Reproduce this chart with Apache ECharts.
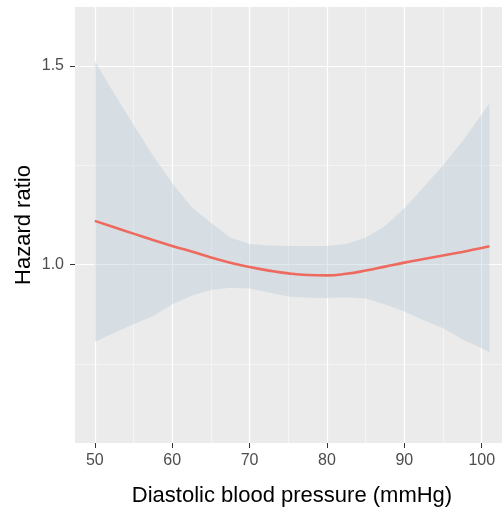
<!DOCTYPE html>
<html>
<head>
<meta charset="utf-8">
<script src="https://cdn.jsdelivr.net/npm/echarts@6/dist/echarts.min.js"></script>
<style>html,body{margin:0;padding:0;background:#fff;}#c{width:502px;height:512px;}</style>
</head>
<body>
<div id="c"></div>
<script>
// Diastolic blood pressure (mmHg)
const dbp = [50, 52.5, 55, 57.5, 60, 62.5, 65, 67.5, 70, 72.5, 75, 77.5, 80, 82.5, 85, 87.5, 90, 92.5, 95, 97.5, 100, 101];
// Fitted hazard ratio
const hazard = [1.11, 1.094, 1.078, 1.062, 1.047, 1.033, 1.018, 1.005, 0.994, 0.985, 0.978, 0.974, 0.973, 0.977, 0.985, 0.995, 1.005, 1.014, 1.023, 1.032, 1.042, 1.046];
// 95% confidence band
const upperCI = [1.512, 1.43, 1.352, 1.275, 1.205, 1.145, 1.105, 1.068, 1.052, 1.048, 1.047, 1.047, 1.047, 1.052, 1.068, 1.097, 1.142, 1.195, 1.25, 1.31, 1.378, 1.405];
const lowerCI = [0.806, 0.828, 0.85, 0.87, 0.9, 0.922, 0.936, 0.942, 0.94, 0.93, 0.92, 0.917, 0.916, 0.918, 0.915, 0.9, 0.882, 0.86, 0.84, 0.812, 0.79, 0.78];
// Axis ticks
const xTicks = [50, 60, 70, 80, 90, 100];
const xMinor = [55, 65, 75, 85, 95];
const yTicks = [1.0, 1.5];
const yMinor = [0.75, 1.25];

const FONT = '"Liberation Sans", Arial, sans-serif';
const X_MIN = 47.44, X_MAX = 102.62, Y_MIN = 0.5515, Y_MAX = 1.6478;

const chart = echarts.init(document.getElementById('c'), null, {renderer: 'canvas'});
const bandRows = dbp.map((x, i) => [x, lowerCI[i], upperCI[i]]);

function hiddenAxis(type, min, max, vals, color, width) {
  return {
    type: 'value', min: min, max: max,
    axisLine: {show: false},
    axisTick: {show: false, customValues: vals},
    axisLabel: {show: false, customValues: vals},
    splitLine: {show: true, lineStyle: {color: color, width: width}}
  };
}

chart.setOption({
  animation: false,
  backgroundColor: '#ffffff',
  grid: {left: 75, right: 0, top: 7, bottom: 64, show: true, backgroundColor: '#EBEBEB', borderWidth: 0},
  xAxis: [
    {
      type: 'value', min: X_MIN, max: X_MAX,
      name: 'Diastolic blood pressure (mmHg)', nameLocation: 'middle', nameGap: 42,
      nameMoveOverlap: false,
      nameTextStyle: {color: '#000', fontSize: 22, fontFamily: FONT, padding: [0, 0, 0, 7]},
      axisLine: {show: false},
      axisTick: {show: true, customValues: xTicks, length: 5, lineStyle: {color: '#333333', width: 1}},
      axisLabel: {customValues: xTicks, color: '#4D4D4D', fontSize: 16, fontFamily: FONT, margin: 10},
      splitLine: {show: true, lineStyle: {color: '#FFFFFF', width: 1.2}}
    },
    hiddenAxis('value', X_MIN, X_MAX, xMinor, '#F5F5F5', 1)
  ],
  yAxis: [
    {
      type: 'value', min: Y_MIN, max: Y_MAX,
      name: 'Hazard ratio', nameLocation: 'middle', nameGap: 40, nameRotate: 90,
      nameMoveOverlap: false,
      nameTextStyle: {color: '#000', fontSize: 22, fontFamily: FONT},
      axisLine: {show: false},
      axisTick: {show: true, customValues: yTicks, length: 5, lineStyle: {color: '#333333', width: 1}},
      axisLabel: {customValues: yTicks, color: '#4D4D4D', fontSize: 16, fontFamily: FONT, margin: 11,
        formatter: v => v.toFixed(1)},
      splitLine: {show: true, lineStyle: {color: '#FFFFFF', width: 1.2}}
    },
    hiddenAxis('value', Y_MIN, Y_MAX, yMinor, '#F5F5F5', 1)
  ],
  series: [
    {
      type: 'custom',
      name: '95% CI',
      xAxisIndex: 0, yAxisIndex: 0,
      data: bandRows,
      encode: {x: 0, y: [1, 2]},
      z: 2,
      silent: true,
      renderItem: function (params, api) {
        if (params.dataIndex !== 0) return null;
        const pts = [];
        for (let i = 0; i < bandRows.length; i++) pts.push(api.coord([bandRows[i][0], bandRows[i][2]]));
        for (let i = bandRows.length - 1; i >= 0; i--) pts.push(api.coord([bandRows[i][0], bandRows[i][1]]));
        return {type: 'polygon', shape: {points: pts}, style: {fill: 'rgba(185,205,216,0.42)', stroke: null}};
      }
    },
    {
      type: 'line',
      name: 'Hazard ratio',
      xAxisIndex: 0, yAxisIndex: 0,
      data: dbp.map((x, i) => [x, hazard[i]]),
      smooth: true,
      showSymbol: false,
      symbol: 'none',
      z: 3,
      lineStyle: {color: '#EE6A5E', width: 2.6},
      itemStyle: {color: '#EE6A5E'}
    }
  ]
});
</script>
</body>
</html>
